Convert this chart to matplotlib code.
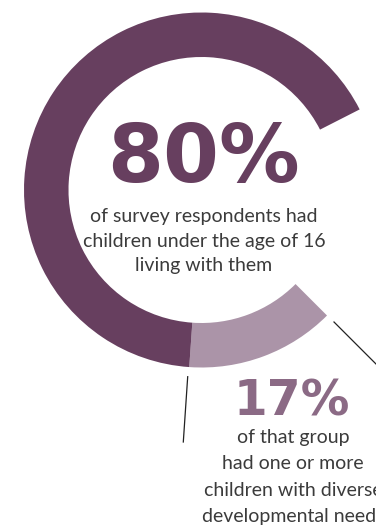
import matplotlib
matplotlib.use("Agg")
import matplotlib.pyplot as plt

# share of respondents with children at home, and the share of that group
# with a child who has diverse developmental needs
headline_pct = 80
subgroup_pct = 17

headline_lines = ["of survey respondents had", "children under the age of 16", "living with them"]
subgroup_lines = ["of that group", "had one or more", "children with diverse", "developmental needs"]

DARK = "#673f5f"
LIGHT = "#ab94a8"
MID = "#8b6a85"
GREY = "#3b3b3b"

W, H = 376, 529
fig = plt.figure(figsize=(W / 100, H / 100), dpi=100)
ax = fig.add_axes([0, 0, 1, 1])

# the subgroup is a slice of the headline share, the rest of the ring is left blank
light = headline_pct * subgroup_pct / 100
dark = headline_pct - light
gap = 100 - headline_pct
ax.pie([light, dark, gap], colors=[LIGHT, DARK, "none"],
       startangle=-45, counterclock=False, center=(201.5, H - 190),
       radius=177.5, wedgeprops=dict(width=44.5, linewidth=0), frame=True)

ax.set_xlim(0, W)
ax.set_ylim(0, H)
ax.set_aspect("equal")
ax.axis("off")

body = ["Lato", "DejaVu Sans"]
ax.text(203, H - 182, f"{headline_pct}%", ha="center", va="baseline",
        fontsize=58, fontweight="bold", color=DARK, family="DejaVu Sans")
for i, line in enumerate(headline_lines):
    ax.text(204, H - (222 + 24.5 * i), line, ha="center", va="baseline",
            fontsize=14, color=GREY, family=body)

ax.text(292, H - 415, f"{subgroup_pct}%", ha="center", va="baseline",
        fontsize=35, fontweight="bold", color=MID, family="DejaVu Sans")
for i, line in enumerate(subgroup_lines):
    ax.text(293, H - (443 + 26.3 * i), line, ha="center", va="baseline",
            fontsize=14, color=GREY, family=body)

# leader lines
ax.plot([187.7, 183.3], [H - 376.7, H - 442], color="#222222", lw=0.9)
ax.plot([334, 382], [H - 322, H - 370], color="#222222", lw=0.9)

fig.savefig("out.png", dpi=100)
